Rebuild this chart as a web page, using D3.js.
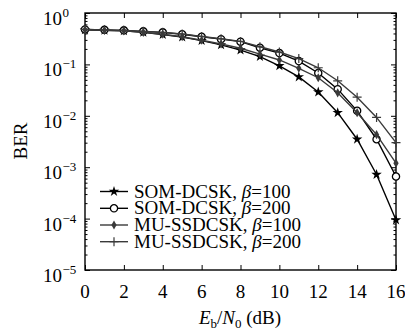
<!DOCTYPE html>
<html>
<head>
<meta charset="utf-8">
<script src="https://cdn.jsdelivr.net/npm/d3@7"></script>
<style>
  body { margin: 0; background: #fff; }
  text { font-family: "Liberation Serif", "DejaVu Serif", serif; fill: #000; }
</style>
</head>
<body>
<svg id="chart" width="405" height="331"></svg>
<script>
// Eb/N0 in dB
var snr = [0, 1, 2, 3, 4, 5, 6, 7, 8, 9, 10, 11, 12, 13, 14, 15, 16];
var som100 = [0.47, 0.46, 0.45, 0.42, 0.38, 0.34, 0.29, 0.24, 0.19, 0.142, 0.094, 0.057, 0.029, 0.0115, 0.0035, 0.00072, 0.000094];
var som200 = [0.48, 0.47, 0.46, 0.44, 0.42, 0.385, 0.345, 0.31, 0.277, 0.211, 0.166, 0.116, 0.068, 0.033, 0.0125, 0.0035, 0.00066];
var mu100 = [0.47, 0.46, 0.45, 0.42, 0.385, 0.345, 0.295, 0.25, 0.206, 0.158, 0.122, 0.084, 0.055, 0.028, 0.0115, 0.0043, 0.0012];
var mu200 = [0.48, 0.47, 0.46, 0.44, 0.42, 0.39, 0.35, 0.315, 0.28, 0.22, 0.174, 0.13, 0.086, 0.048, 0.023, 0.0093, 0.003];
var xTicks = [0, 2, 4, 6, 8, 10, 12, 14, 16];
var yExps = [0, -1, -2, -3, -4, -5];
var names = ["SOM-DCSK", "SOM-DCSK", "MU-SSDCSK", "MU-SSDCSK"];
var betas = ["100", "200", "100", "200"];

var pLeft = 85, pRight = 396, pTop = 13, pBottom = 270;

var svg = d3.select("#chart");

var x = d3.scaleLinear().domain([0, 16]).range([pLeft, pRight]);
var y = d3.scaleLog().domain([1e-5, 1]).range([pBottom, pTop]);

var series = [
    {vals: som100, color: "#000", mark: "star"},
    {vals: som200, color: "#000", mark: "circle"},
    {vals: mu100, color: "#3a3a3a", mark: "diamond"},
    {vals: mu200, color: "#3a3a3a", mark: "plus"}
];

var minor = [];
yExps.forEach(function(e) {
    if (e > -5) for (var k = 2; k <= 9; k++) minor.push(k * Math.pow(10, e - 1));
});
var major = yExps.map(function(e) { return Math.pow(10, e); });

function styleAxis(g) {
    g.select(".domain").remove();
    g.selectAll("line").attr("stroke", "#000").attr("stroke-width", 1);
}

// ticks on all four sides, pointing inward
svg.append("g").attr("transform", "translate(" + pLeft + ",0)")
    .call(d3.axisLeft(y).tickValues(minor).tickSize(-2.5).tickFormat("")).call(styleAxis);
svg.append("g").attr("transform", "translate(" + pLeft + ",0)")
    .call(d3.axisLeft(y).tickValues(major).tickSize(-5).tickFormat("")).call(styleAxis);
svg.append("g").attr("transform", "translate(" + pRight + ",0)")
    .call(d3.axisRight(y).tickValues(minor).tickSize(-2.5).tickFormat("")).call(styleAxis);
svg.append("g").attr("transform", "translate(" + pRight + ",0)")
    .call(d3.axisRight(y).tickValues(major).tickSize(-5).tickFormat("")).call(styleAxis);
svg.append("g").attr("transform", "translate(0," + pBottom + ")")
    .call(d3.axisBottom(x).tickValues(xTicks).tickSize(-5).tickFormat("")).call(styleAxis);
svg.append("g").attr("transform", "translate(0," + pTop + ")")
    .call(d3.axisTop(x).tickValues(xTicks).tickSize(-5).tickFormat("")).call(styleAxis);

svg.append("rect")
    .attr("x", pLeft).attr("y", pTop)
    .attr("width", pRight - pLeft).attr("height", pBottom - pTop)
    .attr("fill", "none").attr("stroke", "#000").attr("stroke-width", 1.4);

// tick labels
svg.selectAll(".xl").data(xTicks).enter().append("text")
    .attr("x", function(d) { return x(d); })
    .attr("y", 298)
    .attr("text-anchor", "middle")
    .style("font-size", "19px")
    .text(function(d) { return d; });

yExps.forEach(function(e) {
    svg.append("text")
        .attr("x", 62)
        .attr("y", y(Math.pow(10, e)) + 12)
        .attr("text-anchor", "end")
        .style("font-size", "19px")
        .text("10");
    var sup = e === 0 ? "0" : "\u2212" + (-e);
    svg.append("text")
        .attr("x", 62.5)
        .attr("y", y(Math.pow(10, e)) + 4)
        .style("font-size", "13px")
        .text(sup);
});

// axis titles
svg.append("text")
    .attr("transform", "translate(27,141) rotate(-90)")
    .attr("text-anchor", "middle")
    .style("font-size", "19px")
    .text("BER");

var xt = svg.append("text")
    .attr("x", 240).attr("y", 324)
    .attr("text-anchor", "middle")
    .style("font-size", "19px");
xt.append("tspan").style("font-style", "italic").text("E");
xt.append("tspan").attr("dy", 4).style("font-size", "13px").text("b");
xt.append("tspan").attr("dy", -4).text("/");
xt.append("tspan").style("font-style", "italic").text("N");
xt.append("tspan").attr("dy", 4).style("font-size", "13px").text("0");
xt.append("tspan").attr("dy", -4).text(" (dB)");

function drawMark(g, kind, color) {
    if (kind === "star") {
        g.append("path").attr("d", d3.symbol().type(d3.symbolStar).size(34)())
            .attr("fill", "#000");
    } else if (kind === "circle") {
        g.append("circle").attr("r", 3.6).attr("fill", "#fff")
            .attr("stroke", "#000").attr("stroke-width", 1.3);
    } else if (kind === "diamond") {
        g.append("path").attr("d", d3.symbol().type(d3.symbolDiamond).size(24)())
            .attr("fill", color);
    } else {
        g.append("path").attr("d", "M-4.5,0H4.5M0,-4.5V4.5")
            .attr("stroke", color).attr("stroke-width", 1.2);
    }
}

var line = d3.line()
    .x(function(d, i) { return x(snr[i]); })
    .y(function(d) { return y(d); });

series.forEach(function(s) {
    svg.append("path")
        .attr("d", line(s.vals))
        .attr("fill", "none")
        .attr("stroke", s.color)
        .attr("stroke-width", 1.4);
    s.vals.forEach(function(v, i) {
        var g = svg.append("g")
            .attr("transform", "translate(" + x(snr[i]) + "," + y(v) + ")");
        drawMark(g, s.mark, s.color);
    });
});

// legend
var legY = [191.5, 208.3, 225, 241.7];
series.forEach(function(s, i) {
    svg.append("line")
        .attr("x1", 100).attr("x2", 128)
        .attr("y1", legY[i]).attr("y2", legY[i])
        .attr("stroke", s.color).attr("stroke-width", 1.4);
    var g = svg.append("g").attr("transform", "translate(114," + legY[i] + ")");
    drawMark(g, s.mark, s.color);
    var t = svg.append("text")
        .attr("x", 134).attr("y", legY[i] + 6)
        .style("font-size", "19px");
    t.append("tspan").text(names[i] + ", ");
    t.append("tspan").style("font-style", "italic").text("\u03b2");
    t.append("tspan").text("=" + betas[i]);
});
</script>
</body>
</html>
